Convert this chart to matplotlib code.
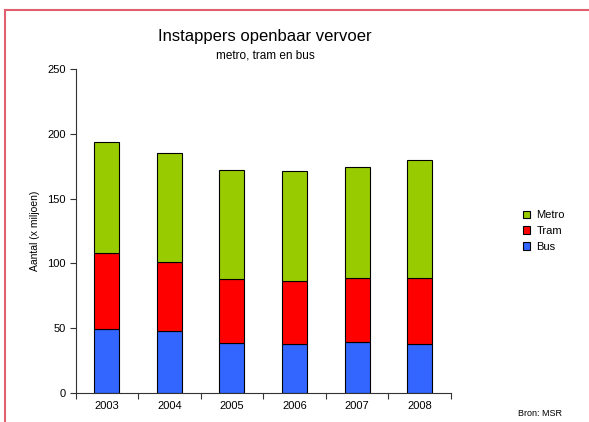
import matplotlib.pyplot as plt
from matplotlib.lines import Line2D
from matplotlib.patches import Patch
import numpy as np

plt.rcParams['font.family'] = ['Liberation Sans', 'DejaVu Sans']

# Instappers per jaar (x miljoen)
years = ["2003", "2004", "2005", "2006", "2007", "2008"]
bus = [49.5, 47.8, 38.8, 37.8, 39.0, 37.8]
tram = [58.3, 53.0, 48.9, 48.9, 49.5, 51.2]
metro = [86.1, 84.1, 84.6, 84.8, 85.6, 91.0]

colors = {"Metro": "#99cc00", "Tram": "#ff0000", "Bus": "#3366ff"}

fig = plt.figure(figsize=(5.89, 4.22), dpi=100)
ax = fig.add_axes([75.5 / 589, 29 / 422, (451 - 75.5) / 589, (393 - 69) / 422])

x = np.arange(len(years))
bus_a = np.array(bus)
tram_a = np.array(tram)
metro_a = np.array(metro)
w = 0.4
ax.bar(x, bus_a, w, color=colors["Bus"], edgecolor="black", linewidth=0.8)
ax.bar(x, tram_a, w, bottom=bus_a, color=colors["Tram"], edgecolor="black", linewidth=0.8)
ax.bar(x, metro_a, w, bottom=bus_a + tram_a, color=colors["Metro"], edgecolor="black", linewidth=0.8)

ax.set_xlim(-0.5, len(years) - 0.5)
ax.set_ylim(0, 250)
ax.set_yticks([0, 50, 100, 150, 200, 250])
ax.set_xticks(x)
ax.set_xticklabels(years)
ax.set_xticks(np.arange(-0.5, len(years)), minor=True)
ax.tick_params(axis="x", which="major", length=0, pad=6, labelsize=8)
ax.tick_params(axis="x", which="minor", length=4, width=0.8, color="#333333")
ax.tick_params(axis="y", length=4, width=0.8, color="#333333", labelsize=8, pad=3)
for side in ["top", "right"]:
    ax.spines[side].set_visible(False)
for side in ["left", "bottom"]:
    ax.spines[side].set_color("#333333")
    ax.spines[side].set_linewidth(0.8)
ax.set_ylabel("Aantal (x miljoen)", fontsize=7.5, labelpad=5)

fig.text(265 / 589, 1 - 36 / 422, "Instappers openbaar vervoer", ha="center", va="center", fontsize=12)
fig.text(265 / 589, 1 - 55 / 422, "metro, tram en bus", ha="center", va="center", fontsize=8.5)
fig.text(540 / 589, 1 - 414 / 422, "Bron: MSR", ha="center", va="center", fontsize=6.5)

handles = [Patch(facecolor=colors[k], edgecolor="black", linewidth=0.8, label=k) for k in ["Metro", "Tram", "Bus"]]
fig.legend(handles=handles, loc="center left", bbox_to_anchor=(513 / 589, 1 - 231 / 422),
           frameon=False, fontsize=8, handlelength=0.65, handleheight=0.65,
           handletextpad=0.55, labelspacing=0.53)

# rode kader links en boven
fig.add_artist(Line2D([5 / 589, 1], [1 - 10 / 422, 1 - 10 / 422], color="#e06070", linewidth=1.5))
fig.add_artist(Line2D([5 / 589, 5 / 589], [0, 1 - 10 / 422], color="#e06070", linewidth=1.5))

fig.savefig("out.png", dpi=100)
